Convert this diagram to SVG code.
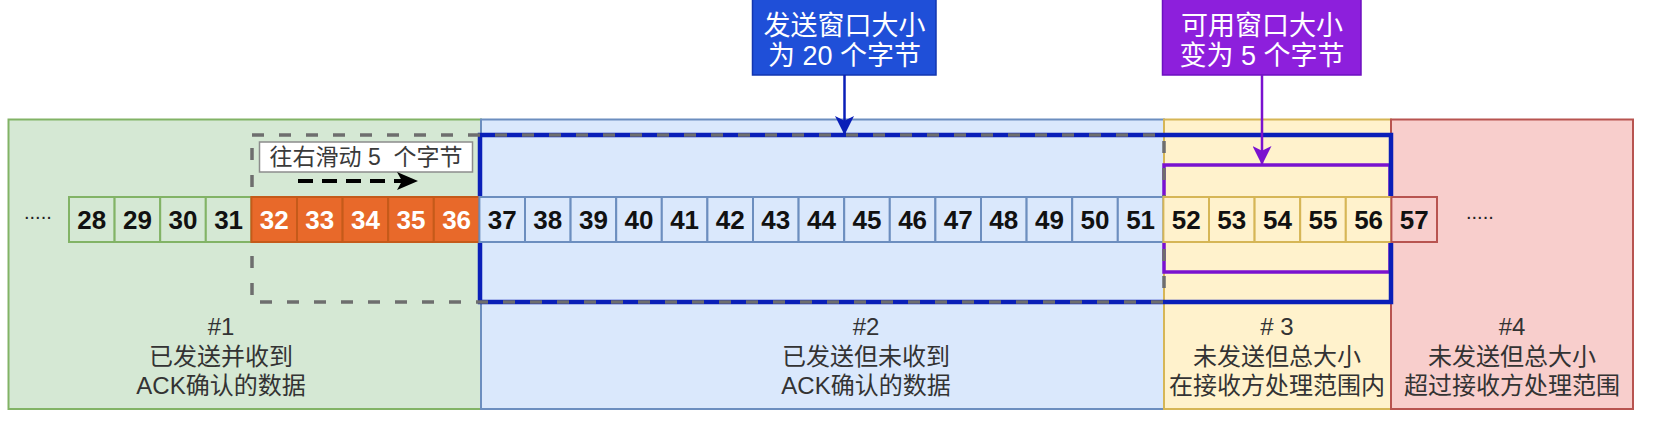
<svg xmlns="http://www.w3.org/2000/svg" width="1670" height="424" viewBox="0 0 1670 424">
<style>
.bg{fill:#ffffff}
.lbl{font-family:"Liberation Sans","Noto Sans CJK SC",sans-serif;font-size:24px;fill:#333333;text-anchor:middle}
.num{font-family:"Liberation Sans","DejaVu Sans",sans-serif;font-size:26px;font-weight:bold;fill:#111111;text-anchor:middle}
.numw{fill:#ffffff}
.cg{fill:#d5e8d4;stroke:#82b366;stroke-width:2}
.co{fill:#e8692a;stroke:#c55a1a;stroke-width:2}
.cb{fill:#dae8fc;stroke:#6c8ebf;stroke-width:2}
.cy{fill:#fff2cc;stroke:#d6b656;stroke-width:2}
.cr{fill:#f8cecc;stroke:#b85450;stroke-width:2}
.box{font-family:"Liberation Sans","Noto Sans CJK SC",sans-serif;font-size:27px;fill:#ffffff;text-anchor:middle}
.dots{font-family:"Liberation Sans",sans-serif;font-size:20px;fill:#222222}
</style>
<defs>
<marker id="ahBlue" viewBox="0 0 20 20" refX="20" refY="10" markerWidth="19" markerHeight="19" markerUnits="userSpaceOnUse" orient="auto"><path d="M0,0 L20,10 L0,20 L5,10 Z" fill="#0a1fb8"/></marker>
<marker id="ahPurple" viewBox="0 0 20 20" refX="20" refY="10" markerWidth="19" markerHeight="19" markerUnits="userSpaceOnUse" orient="auto"><path d="M0,0 L20,10 L0,20 L5,10 Z" fill="#7a12cf"/></marker>
<marker id="ahBlack" viewBox="0 0 21 18" refX="21" refY="9" markerWidth="21" markerHeight="18" markerUnits="userSpaceOnUse" orient="auto"><path d="M0,0 L21,9 L0,18 L5,9 Z" fill="#000000"/></marker>
</defs>
<rect class="bg" x="0" y="0" width="1670" height="424"/>

<g id="region-1"><rect x="8.5" y="119.5" width="472.5" height="289.5" fill="#d5e8d4" stroke="#82b366" stroke-width="2"/></g>
<g id="region-2"><rect x="481" y="119.5" width="683" height="289.5" fill="#dae8fc" stroke="#6c8ebf" stroke-width="2"/></g>
<g id="region-3"><rect x="1164" y="119.5" width="227" height="289.5" fill="#fff2cc" stroke="#d6b656" stroke-width="2"/></g>
<g id="region-4"><rect x="1391" y="119.5" width="242" height="289.5" fill="#f8cecc" stroke="#b85450" stroke-width="2"/></g>

<g id="available-window"><rect x="1164" y="165" width="226" height="107" fill="none" stroke="#7a12cf" stroke-width="3.5"/></g>
<g id="send-window"><rect x="480" y="135" width="911" height="167" fill="none" stroke="#0a1fb8" stroke-width="4.5"/></g>
<g id="slide-window"><rect x="252" y="135" width="912" height="167" fill="none" stroke="#6e6e6e" stroke-width="3.5" stroke-dasharray="12 15"/></g>

<g id="slide-label"><rect x="259.5" y="142" width="213" height="30" fill="#ffffff" stroke="#8c8c8c" stroke-width="1.5"/><text x="366" y="165" style="white-space:pre" font-family="Liberation Sans, Noto Sans CJK SC, sans-serif" font-size="23" fill="#3a3a3a" text-anchor="middle">往右滑动 5  个字节</text></g>

<g id="dots-left"><text class="dots" x="24" y="219">.....</text></g>
<g id="dots-right"><text class="dots" x="1466" y="219">.....</text></g>

<g id="cell-28"><rect class="cg" x="69" y="197" width="45.6" height="45"/><text class="num" x="91.8" y="229.3">28</text></g>
<g id="cell-29"><rect class="cg" x="114.6" y="197" width="45.6" height="45"/><text class="num" x="137.4" y="229.3">29</text></g>
<g id="cell-30"><rect class="cg" x="160.2" y="197" width="45.6" height="45"/><text class="num" x="183" y="229.3">30</text></g>
<g id="cell-31"><rect class="cg" x="205.8" y="197" width="45.6" height="45"/><text class="num" x="228.6" y="229.3">31</text></g>
<g id="cell-32"><rect class="co" x="251.4" y="197" width="45.6" height="45"/><text class="num numw" x="274.2" y="229.3">32</text></g>
<g id="cell-33"><rect class="co" x="297" y="197" width="45.6" height="45"/><text class="num numw" x="319.8" y="229.3">33</text></g>
<g id="cell-34"><rect class="co" x="342.6" y="197" width="45.6" height="45"/><text class="num numw" x="365.4" y="229.3">34</text></g>
<g id="cell-35"><rect class="co" x="388.2" y="197" width="45.6" height="45"/><text class="num numw" x="411" y="229.3">35</text></g>
<g id="cell-36"><rect class="co" x="433.8" y="197" width="45.6" height="45"/><text class="num numw" x="456.6" y="229.3">36</text></g>
<g id="cell-37"><rect class="cb" x="479.4" y="197" width="45.6" height="45"/><text class="num" x="502.2" y="229.3">37</text></g>
<g id="cell-38"><rect class="cb" x="525" y="197" width="45.6" height="45"/><text class="num" x="547.8" y="229.3">38</text></g>
<g id="cell-39"><rect class="cb" x="570.6" y="197" width="45.6" height="45"/><text class="num" x="593.4" y="229.3">39</text></g>
<g id="cell-40"><rect class="cb" x="616.2" y="197" width="45.6" height="45"/><text class="num" x="639" y="229.3">40</text></g>
<g id="cell-41"><rect class="cb" x="661.8" y="197" width="45.6" height="45"/><text class="num" x="684.6" y="229.3">41</text></g>
<g id="cell-42"><rect class="cb" x="707.4" y="197" width="45.6" height="45"/><text class="num" x="730.2" y="229.3">42</text></g>
<g id="cell-43"><rect class="cb" x="753" y="197" width="45.6" height="45"/><text class="num" x="775.8" y="229.3">43</text></g>
<g id="cell-44"><rect class="cb" x="798.6" y="197" width="45.6" height="45"/><text class="num" x="821.4" y="229.3">44</text></g>
<g id="cell-45"><rect class="cb" x="844.2" y="197" width="45.6" height="45"/><text class="num" x="867" y="229.3">45</text></g>
<g id="cell-46"><rect class="cb" x="889.8" y="197" width="45.6" height="45"/><text class="num" x="912.6" y="229.3">46</text></g>
<g id="cell-47"><rect class="cb" x="935.4" y="197" width="45.6" height="45"/><text class="num" x="958.2" y="229.3">47</text></g>
<g id="cell-48"><rect class="cb" x="981" y="197" width="45.6" height="45"/><text class="num" x="1003.8" y="229.3">48</text></g>
<g id="cell-49"><rect class="cb" x="1026.6" y="197" width="45.6" height="45"/><text class="num" x="1049.4" y="229.3">49</text></g>
<g id="cell-50"><rect class="cb" x="1072.2" y="197" width="45.6" height="45"/><text class="num" x="1095" y="229.3">50</text></g>
<g id="cell-51"><rect class="cb" x="1117.8" y="197" width="45.6" height="45"/><text class="num" x="1140.6" y="229.3">51</text></g>
<g id="cell-52"><rect class="cy" x="1163.4" y="197" width="45.6" height="45"/><text class="num" x="1186.2" y="229.3">52</text></g>
<g id="cell-53"><rect class="cy" x="1209" y="197" width="45.6" height="45"/><text class="num" x="1231.8" y="229.3">53</text></g>
<g id="cell-54"><rect class="cy" x="1254.6" y="197" width="45.6" height="45"/><text class="num" x="1277.4" y="229.3">54</text></g>
<g id="cell-55"><rect class="cy" x="1300.2" y="197" width="45.6" height="45"/><text class="num" x="1323" y="229.3">55</text></g>
<g id="cell-56"><rect class="cy" x="1345.8" y="197" width="45.6" height="45"/><text class="num" x="1368.6" y="229.3">56</text></g>
<g id="cell-57"><rect class="cr" x="1391.4" y="197" width="45.6" height="45"/><text class="num" x="1414.2" y="229.3">57</text></g>

<g id="label-1"><text class="lbl" x="221" y="335">#1</text><text class="lbl" x="221" y="364.5">已发送并收到</text><text class="lbl" x="221" y="394">ACK确认的数据</text></g>
<g id="label-2"><text class="lbl" x="866" y="335">#2</text><text class="lbl" x="866" y="364.5">已发送但未收到</text><text class="lbl" x="866" y="394">ACK确认的数据</text></g>
<g id="label-3"><text class="lbl" x="1277" y="335" style="white-space:pre"># 3</text><text class="lbl" x="1277" y="364.5">未发送但总大小</text><text class="lbl" x="1277" y="394">在接收方处理范围内</text></g>
<g id="label-4"><text class="lbl" x="1512" y="335">#4</text><text class="lbl" x="1512" y="364.5">未发送但总大小</text><text class="lbl" x="1512" y="394">超过接收方处理范围</text></g>

<g id="send-window-note"><rect x="752.5" y="-1" width="183.5" height="76" fill="#1f4fd8" stroke="#1236b0" stroke-width="1.5"/><text class="box" x="844.5" y="35">发送窗口大小</text><text class="box" x="844.5" y="65" style="white-space:pre">为 20 个字节</text></g>
<g id="available-window-note"><rect x="1162.5" y="-1" width="198.5" height="76" fill="#8d1fdc" stroke="#6e10c0" stroke-width="1.5"/><text class="box" x="1262" y="35">可用窗口大小</text><text class="box" x="1262" y="65" style="white-space:pre">变为 5 个字节</text></g>

<g id="connectors">
<line x1="844.5" y1="75" x2="844.5" y2="135" stroke="#0a1fb8" stroke-width="2.5" marker-end="url(#ahBlue)"/>
<line x1="1262" y1="75" x2="1262" y2="165" stroke="#7a12cf" stroke-width="2.5" marker-end="url(#ahPurple)"/>
<line x1="298" y1="181" x2="418" y2="181" stroke="#000000" stroke-width="4" stroke-dasharray="15 9" marker-end="url(#ahBlack)"/>
</g>
</svg>
